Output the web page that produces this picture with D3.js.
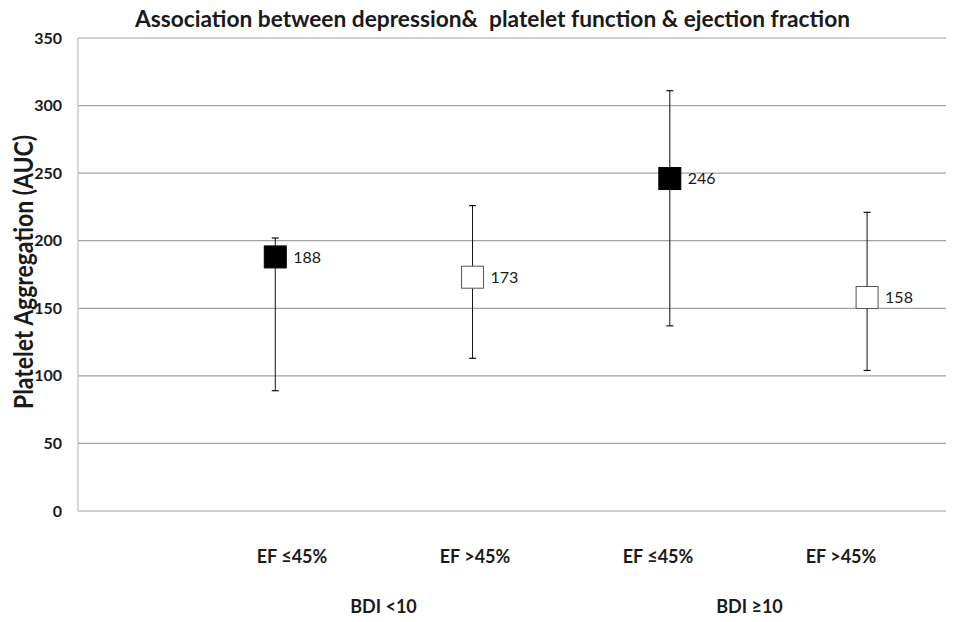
<!DOCTYPE html>
<html>
<head>
<meta charset="utf-8">
<script src="https://cdnjs.cloudflare.com/ajax/libs/d3/7.8.5/d3.min.js"></script>
<style>
  body { margin: 0; background: #fff; }
  text { font-family: Lato, "Open Sans", sans-serif; fill: #1a1a1a; }
</style>
</head>
<body>
<svg id="chart" width="959" height="622"></svg>
<script>
// data
let categories = ["EF ≤45%", "EF >45%", "EF ≤45%", "EF >45%"];
let groups = ["BDI <10", "BDI ≥10"];
let means = [188, 173, 246, 158];
let upper = [202, 226, 311, 221];
let lower = [89, 113, 137, 104];
let filled = [true, false, true, false];
let yTicks = [0, 50, 100, 150, 200, 250, 300, 350];

let svg = d3.select("#chart");

let plotLeft = 78, plotRight = 946, plotTop = 38, plotBottom = 511;

let x = d3.scaleLinear().domain([0, 4.4]).range([plotLeft, plotRight]);
let y = d3.scaleLinear().domain([0, 350]).range([plotBottom, plotTop]);
// category labels sit on their own evenly spaced positions
let labelX = d3.scalePoint().domain(d3.range(categories.length)).range([292, 841]);

//grid lines
svg.append("g")
.selectAll("line")
.data(yTicks)
.enter()
.append("line")
.attr("x1", plotLeft)
.attr("x2", plotRight)
.attr("y1", d => y(d))
.attr("y2", d => y(d))
.attr("stroke", "#a3a3a3")
.attr("stroke-width", 1.2);

//y axis line
svg.append("line")
.attr("x1", plotLeft).attr("x2", plotLeft)
.attr("y1", plotTop).attr("y2", plotBottom)
.attr("stroke", "#bdbdbd")
.attr("stroke-width", 1.2);

//tick labels
svg.append("g")
.selectAll("text")
.data(yTicks)
.enter()
.append("text")
.attr("x", 62)
.attr("y", d => y(d))
.attr("dy", "0.35em")
.attr("text-anchor", "end")
.style("font-size", "16px")
.style("font-weight", "bold")
.text(d => d);

let idx = d3.range(means.length);

//error bars
let bars = svg.append("g");
bars.selectAll(".whisker")
.data(idx)
.enter()
.append("line")
.attr("x1", i => x(i + 1))
.attr("x2", i => x(i + 1))
.attr("y1", i => y(upper[i]))
.attr("y2", i => y(lower[i]))
.attr("stroke", "#111")
.attr("stroke-width", 1);

[upper, lower].forEach(arr => {
    bars.selectAll(null)
    .data(idx)
    .enter()
    .append("line")
    .attr("x1", i => x(i + 1) - 3.5)
    .attr("x2", i => x(i + 1) + 3.5)
    .attr("y1", i => y(arr[i]))
    .attr("y2", i => y(arr[i]))
    .attr("stroke", "#111")
    .attr("stroke-width", 1.2);
});

//markers
let size = 22;
svg.append("g")
.selectAll("rect")
.data(idx)
.enter()
.append("rect")
.attr("x", i => x(i + 1) - size / 2)
.attr("y", i => y(means[i]) - size / 2)
.attr("width", size)
.attr("height", size)
.attr("fill", i => filled[i] ? "#000" : "#fff")
.attr("stroke", i => filled[i] ? "#000" : "#555")
.attr("stroke-width", 1);

//value labels
svg.append("g")
.selectAll("text")
.data(idx)
.enter()
.append("text")
.attr("x", i => x(i + 1) + size / 2 + 7)
.attr("y", i => y(means[i]))
.attr("dy", "0.36em")
.style("font-size", "16px")
.text(i => means[i]);

//category labels
svg.append("g")
.selectAll("text")
.data(idx)
.enter()
.append("text")
.attr("x", i => labelX(i))
.attr("y", 563)
.attr("text-anchor", "middle")
.style("font-size", "18px")
.style("font-weight", "bold")
.text(i => categories[i]);

//group labels
svg.append("g")
.selectAll("text")
.data(groups)
.enter()
.append("text")
.attr("x", (d, g) => (labelX(g * 2) + labelX(g * 2 + 1)) / 2)
.attr("y", 613)
.attr("text-anchor", "middle")
.style("font-size", "18px")
.style("font-weight", "bold")
.text(d => d);

//title
svg.append("text")
.attr("x", 135)
.attr("y", 27)
.attr("textLength", 715)
.attr("lengthAdjust", "spacingAndGlyphs")
.style("white-space", "pre")
.style("font-size", "23px")
.style("font-weight", "bold")
.text("Association between depression&  platelet function & ejection fraction");

//y axis title
svg.append("text")
.attr("transform", "translate(33,272) rotate(-90)")
.attr("text-anchor", "middle")
.attr("textLength", 274)
.attr("lengthAdjust", "spacingAndGlyphs")
.style("font-size", "26px")
.style("font-weight", "bold")
.text("Platelet Aggregation (AUC)");
</script>
</body>
</html>
